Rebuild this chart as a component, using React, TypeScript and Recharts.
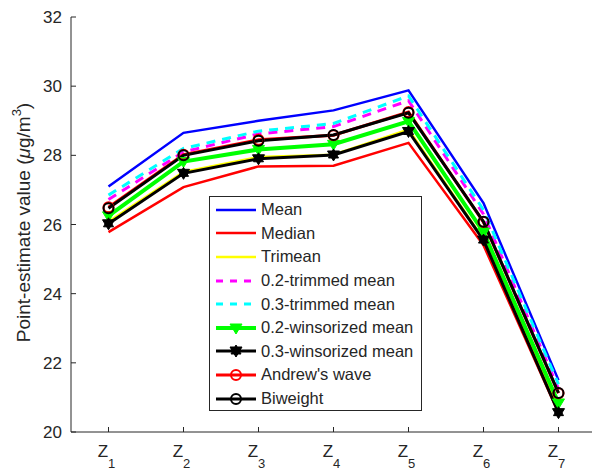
import React from "react"
import { LineChart, Line, XAxis, YAxis } from "recharts"

// zone index labels (rendered as Z with subscript)
const zones = ["1", "2", "3", "4", "5", "6", "7"]

const mean = [27.1, 28.65, 29.0, 29.3, 29.88, 26.62, 21.5]
const median = [25.78, 27.08, 27.68, 27.7, 28.36, 25.4, 20.55]
const trimean = [26.08, 27.52, 27.95, 28.02, 28.75, 25.58, 20.65]
const trimmed02 = [26.72, 28.1, 28.62, 28.83, 29.58, 26.3, 21.25]
const trimmed03 = [26.85, 28.2, 28.7, 28.92, 29.72, 26.42, 21.38]
const winsorized02 = [26.25, 27.82, 28.17, 28.32, 28.98, 25.78, 20.84]
const winsorized03 = [26.02, 27.48, 27.9, 28.01, 28.69, 25.55, 20.56]
const andrewsWave = [26.5, 28.02, 28.45, 28.58, 29.25, 26.07, 21.12]
const biweight = [26.47, 28.0, 28.42, 28.59, 29.23, 26.08, 21.13]

const yTicks = [20, 22, 24, 26, 28, 30, 32]

const data = zones.map((z, i) => ({
    x: i + 1,
    zone: z,
    mean: mean[i],
    median: median[i],
    trimean: trimean[i],
    trimmed02: trimmed02[i],
    trimmed03: trimmed03[i],
    winsorized02: winsorized02[i],
    winsorized03: winsorized03[i],
    andrewsWave: andrewsWave[i],
    biweight: biweight[i],
}))

const AXIS = "#262626"
const FONT = "'Liberation Sans', Arial, sans-serif"

// chart frame
const CHART_W = 600
const CHART_H = 471
const TOP = 17
const X_AXIS_H = 39
const PLOT_BOTTOM = CHART_H - X_AXIS_H

type MarkerKind = "none" | "tri" | "star" | "circle"

interface SeriesDef {
    key: string
    name: string
    color: string
    width: number
    dash?: string
    marker: MarkerKind
}

const series: SeriesDef[] = [
    { key: "mean", name: "Mean", color: "#0000ff", width: 2.5, marker: "none" },
    { key: "median", name: "Median", color: "#ff0000", width: 2.5, marker: "none" },
    { key: "trimean", name: "Trimean", color: "#ffff00", width: 2.5, marker: "none" },
    { key: "trimmed02", name: "0.2-trimmed mean", color: "#ff00ff", width: 3, dash: "9 7", marker: "none" },
    { key: "trimmed03", name: "0.3-trimmed mean", color: "#00ffff", width: 3, dash: "9 7", marker: "none" },
    { key: "winsorized02", name: "0.2-winsorized mean", color: "#00ff00", width: 4, marker: "tri" },
    { key: "winsorized03", name: "0.3-winsorized mean", color: "#000000", width: 3, marker: "star" },
    { key: "andrewsWave", name: "Andrew's wave", color: "#ff0000", width: 3, marker: "circle" },
    { key: "biweight", name: "Biweight", color: "#000000", width: 3, marker: "circle" },
]

function Marker({ kind, cx, cy, color }: { kind: MarkerKind; cx: number; cy: number; color: string }) {
    if (kind === "tri") {
        return <polygon points={`${cx - 6},${cy - 4} ${cx + 6},${cy - 4} ${cx},${cy + 6}`} fill={color} stroke={color} />
    }
    if (kind === "star") {
        return (
            <g fill={color} stroke={color}>
                <polygon points={`${cx - 6},${cy - 4} ${cx + 6},${cy - 4} ${cx},${cy + 6}`} />
                <polygon points={`${cx - 5},${cy + 3} ${cx + 5},${cy + 3} ${cx},${cy - 6}`} />
            </g>
        )
    }
    if (kind === "circle") {
        return <circle cx={cx} cy={cy} r={5} fill="none" stroke={color} strokeWidth={2} />
    }
    return null
}

function makeDot(s: SeriesDef) {
    if (s.marker === "none") return false
    return (props: any) => (
        <Marker key={`${s.key}-${props.index}`} kind={s.marker} cx={props.cx} cy={props.cy} color={s.color} />
    )
}

function BottomTick(props: any) {
    const { x, payload } = props
    const z = zones[payload.value - 1]
    const y = PLOT_BOTTOM
    return (
        <g>
            <line x1={x} x2={x} y1={y} y2={y - 5} stroke={AXIS} strokeWidth={1} />
            <text x={x - 2} y={y + 25} textAnchor="middle" fontSize={17} fill={AXIS} fontFamily={FONT}>
                Z<tspan dy={11} fontSize={13}>{z}</tspan>
            </text>
        </g>
    )
}

function TopTick(props: any) {
    const { x } = props
    return <line x1={x} x2={x} y1={TOP} y2={TOP + 5} stroke={AXIS} strokeWidth={1} />
}

function LeftTick(props: any) {
    const { x, y, payload } = props
    return (
        <g>
            <line x1={x} x2={x + 5} y1={y} y2={y} stroke={AXIS} strokeWidth={1} />
            <text x={x - 9} y={y + 6} textAnchor="end" fontSize={17} fill={AXIS} fontFamily={FONT}>
                {payload.value}
            </text>
        </g>
    )
}

function YLabel(props: any) {
    const { viewBox } = props
    const cx = viewBox.x + 23
    const cy = viewBox.y + viewBox.height / 2 - 2
    return (
        <text
            x={cx}
            y={cy}
            transform={`rotate(-90 ${cx} ${cy})`}
            textAnchor="middle"
            dominantBaseline="central"
            fontSize={19}
            fill={AXIS}
            fontFamily={FONT}
        >
            Point-estimate value (<tspan fontStyle="italic">μ</tspan>g/m<tspan dy={-7} fontSize={13}>3</tspan>
            <tspan dy={7}>)</tspan>
        </text>
    )
}

function LegendBox() {
    return (
        <div
            style={{
                position: "absolute",
                left: 209,
                top: 196,
                boxSizing: "border-box",
                border: `1px solid ${AXIS}`,
                background: "#fff",
                width: 213,
                height: 215,
                padding: "1px 0",
                fontFamily: FONT,
                fontSize: 16.5,
                color: AXIS,
            }}
        >
            {series.map((s) => (
                <div key={s.key} style={{ display: "flex", alignItems: "center", height: 23.6 }}>
                    <svg width={51} height={20} style={{ flex: "none" }}>
                        <line
                            x1={6}
                            x2={46}
                            y1={10}
                            y2={10}
                            stroke={s.color}
                            strokeWidth={s.width}
                            strokeDasharray={s.dash ? "7 7" : undefined}
                        />
                        <Marker kind={s.marker} cx={26} cy={10} color={s.color} />
                    </svg>
                    <span style={{ whiteSpace: "nowrap" }}>{s.name}</span>
                </div>
            ))}
        </div>
    )
}

export default function App() {
    return (
        <div style={{ position: "relative", width: 592, height: 471, overflow: "hidden", background: "#fff" }}>
            <style>{"html,body{margin:0;padding:0;overflow:hidden}"}</style>
            <LineChart width={CHART_W} height={CHART_H} data={data} margin={{ top: TOP, right: 4, left: 0, bottom: 0 }}>
                <XAxis
                    dataKey="x"
                    type="number"
                    domain={[0.5, 7.5]}
                    ticks={[1, 2, 3, 4, 5, 6, 7]}
                    height={X_AXIS_H}
                    stroke={AXIS}
                    tickLine={false}
                    tickSize={0}
                    tickMargin={0}
                    tick={<BottomTick />}
                />
                <XAxis
                    xAxisId="top"
                    orientation="top"
                    dataKey="x"
                    type="number"
                    domain={[0.5, 7.5]}
                    ticks={[1, 2, 3, 4, 5, 6, 7]}
                    height={0}
                    stroke={AXIS}
                    tickLine={false}
                    tickSize={0}
                    tickMargin={0}
                    tick={<TopTick />}
                />
                <YAxis
                    domain={[20, 32]}
                    ticks={yTicks}
                    width={71}
                    stroke={AXIS}
                    tickLine={false}
                    tickSize={0}
                    tickMargin={0}
                    tick={<LeftTick />}
                    label={<YLabel />}
                />
                {series.map((s) => (
                    <Line
                        key={s.key}
                        dataKey={s.key}
                        name={s.name}
                        stroke={s.color}
                        strokeWidth={s.width}
                        strokeDasharray={s.dash}
                        dot={makeDot(s)}
                        activeDot={false}
                        isAnimationActive={false}
                    />
                ))}
            </LineChart>
            <LegendBox />
        </div>
    )
}
